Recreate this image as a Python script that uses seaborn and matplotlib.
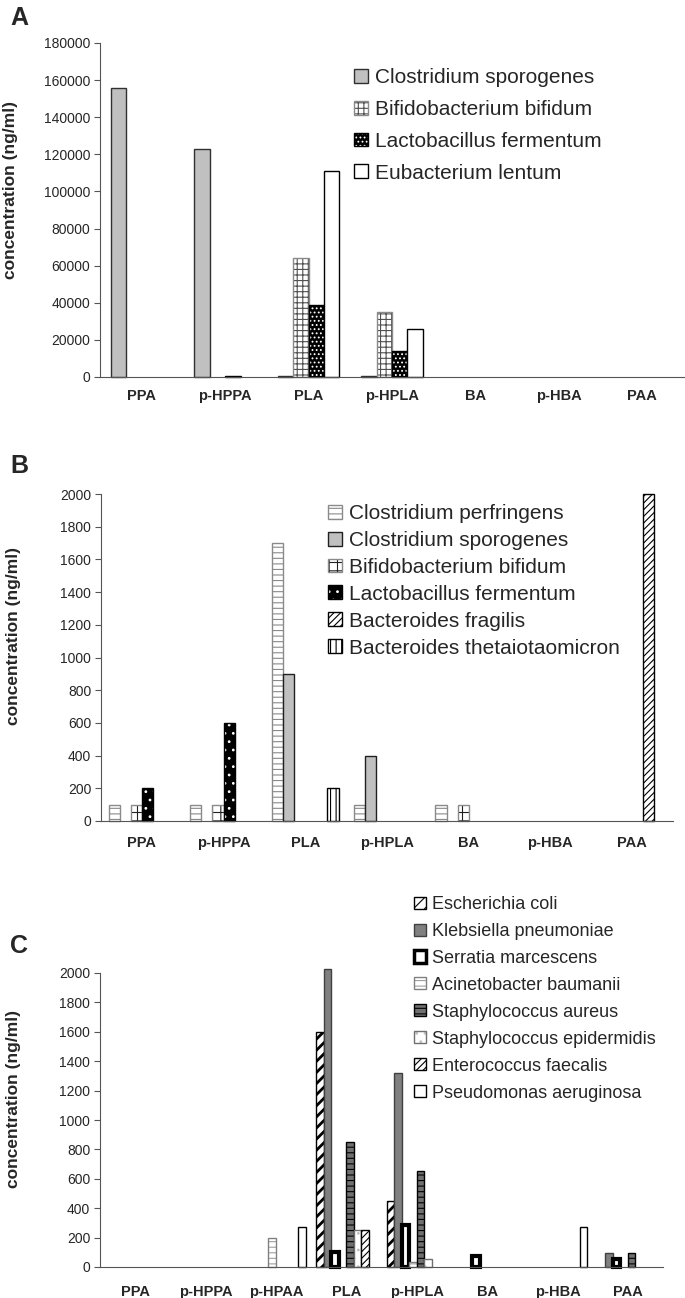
import matplotlib
matplotlib.use("Agg")
import matplotlib.pyplot as plt
import matplotlib.colors as mcolors
from matplotlib.patches import Patch
import numpy as np
import pandas as pd
import seaborn as sns

# ---- data ----
acids_ab = ["PPA", "p-HPPA", "PLA", "p-HPLA", "BA", "p-HBA", "PAA"]
acids_c = ["PPA", "p-HPPA", "p-HPAA", "PLA", "p-HPLA", "BA", "p-HBA", "PAA"]

# panel A
species_a = ["Clostridium sporogenes", "Bifidobacterium bifidum",
             "Lactobacillus fermentum", "Eubacterium lentum"]
a_sporogenes = [156000, 123000, 600, 600, 0, 0, 0]
a_bifidum = [0, 0, 64000, 35000, 0, 0, 0]
a_fermentum = [0, 600, 39000, 14000, 0, 0, 0]
a_lentum = [0, 0, 111000, 26000, 0, 0, 0]

# panel B
species_b = ["Clostridium perfringens", "Clostridium sporogenes",
             "Bifidobacterium bifidum", "Lactobacillus fermentum",
             "Bacteroides fragilis", "Bacteroides thetaiotaomicron"]
b_perfringens = [100, 100, 1700, 100, 100, 0, 0]
b_sporogenes = [0, 0, 900, 400, 0, 0, 0]
b_bifidum = [100, 100, 0, 0, 100, 0, 0]
b_fermentum = [200, 600, 0, 0, 0, 0, 0]
b_fragilis = [0, 0, 0, 0, 0, 0, 2000]
b_theta = [0, 0, 200, 0, 0, 0, 0]

# panel C
species_c = ["Escherichia coli", "Klebsiella pneumoniae", "Serratia marcescens",
             "Acinetobacter baumanii", "Staphylococcus aureus",
             "Staphylococcus epidermidis", "Enterococcus faecalis",
             "Pseudomonas aeruginosa"]
c_coli = [0, 0, 0, 1600, 450, 0, 0, 0]
c_klebsiella = [0, 0, 0, 2030, 1320, 0, 0, 95]
c_serratia = [0, 0, 0, 100, 285, 75, 0, 55]
c_acinetobacter = [0, 0, 200, 0, 35, 0, 0, 0]
c_aureus = [0, 0, 0, 850, 655, 0, 0, 95]
c_epidermidis = [0, 0, 0, 250, 55, 0, 0, 0]
c_faecalis = [0, 0, 0, 250, 0, 0, 0, 0]
c_aeruginosa = [0, 0, 270, 0, 0, 0, 270, 0]

# ---- styles (face, edge, hatch, hatch colour, linewidth) ----
styles_a = [
    dict(fc="#c0c0c0", ec="#303030", hatch=None, lw=1.0),
    dict(fc="white", ec="#8a8a8a", hatch="+++", hc="#505050", lw=1.0),
    dict(fc="black", ec="black", hatch="....", hc="white", lw=1.0),
    dict(fc="white", ec="black", hatch=None, lw=1.0),
]
styles_b = [
    dict(fc="white", ec="#8a8a8a", hatch="---", hc="#8a8a8a", lw=1.0),
    dict(fc="#c0c0c0", ec="#202020", hatch=None, lw=1.0),
    dict(fc="white", ec="#8a8a8a", hatch="++", hc="#202020", lw=1.0),
    dict(fc="black", ec="black", hatch="..", hc="white", lw=1.0),
    dict(fc="white", ec="black", hatch="/////", hc="black", lw=1.0),
    dict(fc="white", ec="black", hatch="|||", hc="black", lw=1.0),
]
styles_c = [
    dict(fc="white", ec="black", hatch="///", hc="black", lw=1.0, hlw=2.0),
    dict(fc="#808080", ec="#404040", hatch=None, lw=1.0),
    dict(fc="white", ec="black", hatch=None, lw=3.0),
    dict(fc="white", ec="#808080", hatch="---", hc="#a0a0a0", lw=1.0),
    dict(fc="#707070", ec="black", hatch="---", hc="black", lw=1.0),
    dict(fc="white", ec="#707070", hatch="..", hc="#c0c0c0", lw=1.0),
    dict(fc="white", ec="black", hatch="/////", hc="black", lw=1.0),
    dict(fc="white", ec="black", hatch=None, lw=1.0),
]

sns.set_style("white")
plt.rcParams["font.family"] = ["Liberation Sans", "DejaVu Sans"]
plt.rcParams["hatch.linewidth"] = 0.8


def apply_style(p, st):
    p.set_facecolor(st["fc"])
    p.set_edgecolor(st["ec"])
    p.set_linewidth(st["lw"])
    if st.get("hatch"):
        p.set_hatch(st["hatch"])
        p._hatch_color = mcolors.to_rgba(st.get("hc", st["ec"]))
        if st.get("hlw") and hasattr(p, "set_hatch_linewidth"):
            p.set_hatch_linewidth(st["hlw"])


def draw_panel(ax, acids, species, series, styles, ymax, ystep, width,
               pad, label_y):
    rows = []
    for name, vals in zip(species, series):
        for acid, v in zip(acids, vals):
            if v > 0:
                rows.append({"acid": acid, "species": name, "conc": v})
    df = pd.DataFrame(rows)

    tmp_cols = sns.color_palette("husl", len(species))
    pal = dict(zip(species, tmp_cols))
    sns.barplot(data=df, x="acid", y="conc", hue="species", order=acids,
                hue_order=species, palette=pal, width=width, legend=False,
                saturation=1, errorbar=None, ax=ax)

    # restyle bars by their temporary colour
    for p in ax.patches:
        fc = np.array(p.get_facecolor()[:3])
        idx = int(np.argmin([np.abs(fc - np.array(c)).sum() for c in tmp_cols]))
        apply_style(p, styles[idx])
        p.set_clip_on(False)

    n = len(acids)
    ax.set_xlim(-0.5, n - 0.5)
    ax.set_ylim(0, ymax)
    ax.set_yticks(np.arange(0, ymax + 1, ystep))
    ax.set_yticklabels([f"{int(v)}" for v in np.arange(0, ymax + 1, ystep)])
    ax.set_xticks(np.arange(n + 1) - 0.5)
    ax.set_xticklabels([])
    ax.set_xticks(np.arange(n), minor=True)
    ax.set_xticklabels(acids, minor=True, fontweight="bold", fontsize=10.5)
    ax.tick_params(axis="x", which="major", length=4, width=0.8,
                   color="#555555", direction="out")
    ax.tick_params(axis="x", which="minor", length=0, pad=pad)
    ax.tick_params(axis="y", length=4, width=0.8, color="#555555",
                   labelsize=10, pad=3, left=True)
    ax.set_xlabel("")
    ax.set_ylabel("concentration (ng/ml)", fontsize=12.5, fontweight="bold")
    ax.yaxis.set_label_coords(-0.14, label_y)
    sns.despine(ax=ax)
    for s in ["left", "bottom"]:
        ax.spines[s].set_color("#555555")
        ax.spines[s].set_linewidth(0.8)


W, H = 685, 1298
fig = plt.figure(figsize=(W / 100, H / 100), dpi=100)


def add_axes(left, right, top, bottom):
    return fig.add_axes([left / W, 1 - bottom / H, (right - left) / W,
                         (bottom - top) / H])


ax_a = add_axes(100, 684, 43, 377)
ax_b = add_axes(101, 673, 494, 821)
ax_c = add_axes(100, 663, 973, 1267)

draw_panel(ax_a, acids_ab, species_a,
           [a_sporogenes, a_bifidum, a_fermentum, a_lentum],
           styles_a, 180000, 20000, 0.74, 9, 0.56)
draw_panel(ax_b, acids_ab, species_b,
           [b_perfringens, b_sporogenes, b_bifidum, b_fermentum, b_fragilis,
            b_theta],
           styles_b, 2000, 200, 0.815, 11, 0.566)
draw_panel(ax_c, acids_c, species_c,
           [c_coli, c_klebsiella, c_serratia, c_acinetobacter, c_aureus,
            c_epidermidis, c_faecalis, c_aeruginosa],
           styles_c, 2000, 200, 0.85, 13, 0.571)


def add_legend(ax, species, styles, x, y, fs, spacing):
    handles = []
    for st in styles:
        h = Patch()
        apply_style(h, st)
        if st["lw"] > 2:
            h.set_linewidth(2.5)
        handles.append(h)
    ax.legend(handles, species, loc="upper left", bbox_to_anchor=(x / W, 1 - y / H),
              bbox_transform=fig.transFigure, frameon=False, fontsize=fs,
              handlelength=0.65, handleheight=0.65, handletextpad=0.35,
              labelspacing=spacing, borderpad=0, borderaxespad=0)


add_legend(ax_a, species_a, styles_a, 354, 68, 15, 0.62)
add_legend(ax_b, species_b, styles_b, 328, 504, 15, 0.38)
add_legend(ax_c, species_c, styles_c, 414, 896, 13, 0.55)

for letter, yb in [("A", 25), ("B", 473), ("C", 953)]:
    fig.text(10 / W, 1 - yb / H, letter, fontsize=18, fontweight="bold",
             ha="left", va="baseline")

fig.savefig("out.png", dpi=100)
